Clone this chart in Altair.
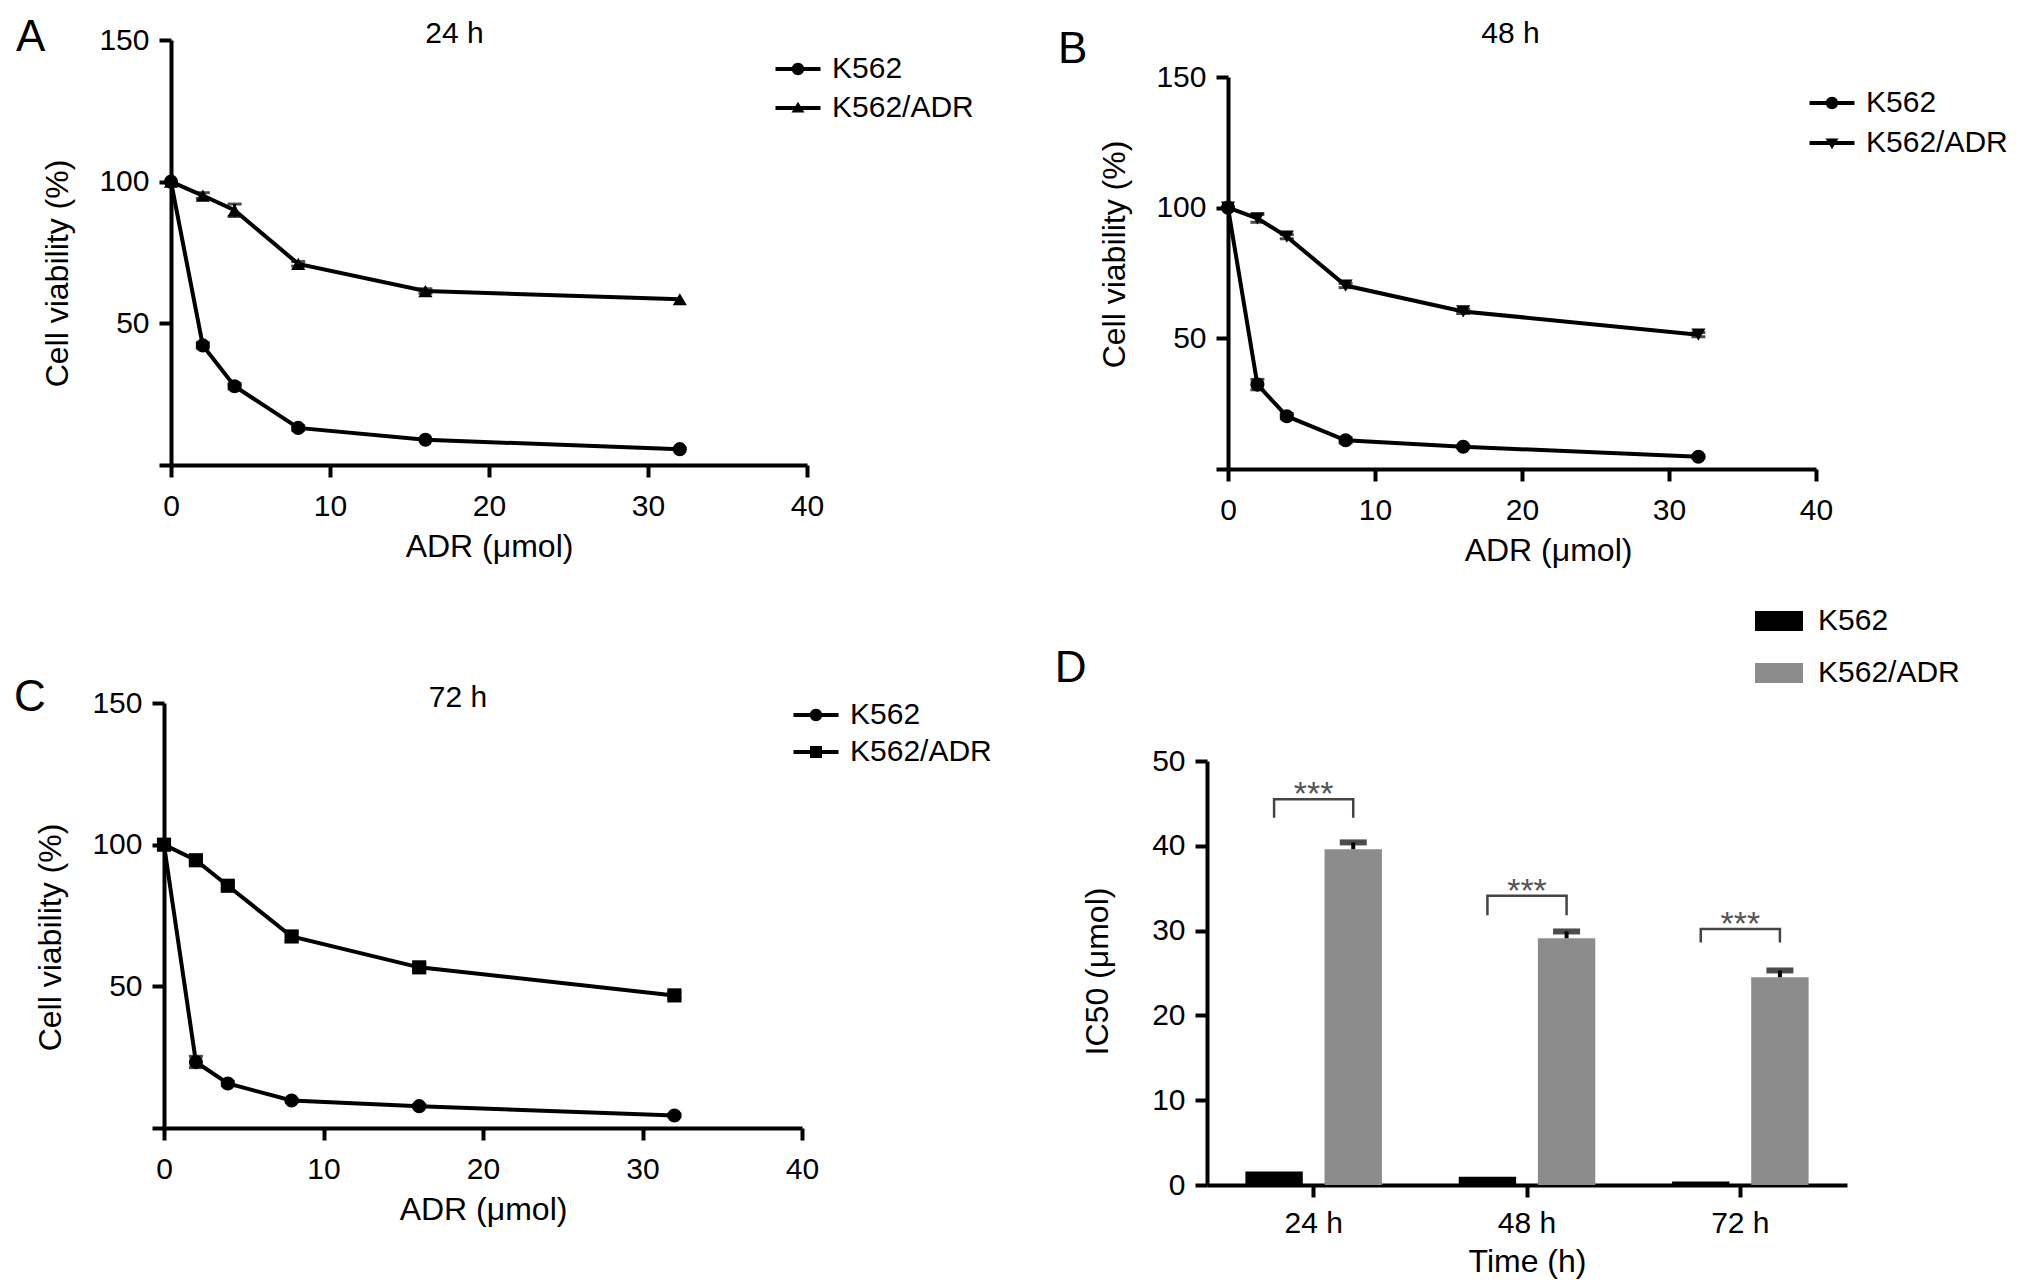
import altair as alt
import pandas as pd

FONT = "Liberation Sans"

# ADR doses (umol) and the two cell lines
doses = [0, 2, 4, 8, 16, 32]
series = ["K562", "K562/ADR"]

# cell viability (%)
via_24_k562 = [100, 42.2, 27.8, 13.1, 8.9, 5.6]
sd_24_k562 = [0, 1.0, 1.0, 0.8, 0, 0]
via_24_adr = [100, 95.1, 89.9, 71.0, 61.4, 58.5]
sd_24_adr = [0, 1.0, 2.2, 0.8, 0.8, 0]

via_48_k562 = [100, 32.3, 20.2, 11.0, 8.5, 4.7]
sd_48_k562 = [0, 2.0, 1.0, 1.0, 0.5, 0.5]
via_48_adr = [100, 95.9, 88.9, 70.2, 60.3, 51.4]
sd_48_adr = [0, 1.5, 0.8, 0.8, 0.8, 0.8]

via_72_k562 = [100, 23.3, 15.7, 9.7, 7.7, 4.4]
sd_72_k562 = [0, 2.0, 0.8, 0.5, 0.5, 0.5]
via_72_adr = [100, 94.5, 85.5, 67.6, 56.7, 46.8]
sd_72_adr = [0, 1.0, 1.0, 1.5, 1.0, 1.0]

# IC50 (umol)
times = ["24 h", "48 h", "72 h"]
ic50_k562 = [1.6, 0.96, 0.42]
ic50_k562_err = [0, 0, 0]
ic50_adr = [39.6, 29.1, 24.5]
ic50_adr_err = [0.8, 0.8, 0.8]
bracket_top = [45.5, 34.1, 30.2]
bracket_leg = [43.3, 31.8, 28.6]

# legend symbols: a short bar with the marker in the middle (all filled,
# all drawn clockwise so nothing cancels out)
LEG_LINE = "M-2.25,-0.2H2.25V0.2H-2.25Z"
LEG_CIRCLE = LEG_LINE + "M0.62,0A0.62,0.62,0,1,1,-0.62,0A0.62,0.62,0,1,1,0.62,0Z"
LEG_TRI_UP = LEG_LINE + "M0,-0.62L0.65,0.46L-0.65,0.46Z"
LEG_TRI_DOWN = LEG_LINE + "M0,0.62L-0.65,-0.46L0.65,-0.46Z"
LEG_SQUARE = LEG_LINE + "M-0.6,-0.6H0.6V0.6H-0.6Z"
LEG_BAR = "M-1.2,-0.5H1.2V0.5H-1.2Z"


def viability_panel(k562, k562_sd, adr, adr_sd, shape, leg_shape, width,
                    height, title, title_dx, title_offset, ytitle_y,
                    legend_x, legend_y, row_pad, left=0, top=0,
                    xtitle_x=None):
    df = pd.DataFrame({
        "dose": doses * 2,
        "viab": k562 + adr,
        "sd": k562_sd + adr_sd,
        "line": ["K562"] * len(doses) + ["K562/ADR"] * len(doses),
    })
    df["lo"] = df["viab"] - df["sd"]
    df["hi"] = df["viab"] + df["sd"]

    xaxis = dict(values=[0, 10, 20, 30, 40], titlePadding=10)
    if xtitle_x is not None:
        xaxis["titleX"] = xtitle_x
    x = alt.X("dose:Q", title="ADR (μmol)",
              scale=alt.Scale(domain=[0, 40], nice=False,
                              range=[left, width]),
              axis=alt.Axis(**xaxis))

    def y(field):
        return alt.Y(field, title="Cell viability (%)",
                     scale=alt.Scale(domain=[0, 150], nice=False,
                                     range=[height, top]),
                     axis=alt.Axis(values=[0, 50, 100, 150], titleY=ytitle_y,
                                   titlePadding=24, offset=-left,
                                   labelExpr="datum.value == 0 ? '' : datum.label"))

    base = alt.Chart(df)
    lines = base.mark_line(color="black", strokeWidth=4).encode(
        x=x, y=y("viab:Q"), detail="line:N")
    err = base.transform_filter("datum.sd > 0").mark_rule(
        color="black", strokeWidth=3).encode(x=x, y=y("lo:Q"), y2="hi:Q")
    err_hi = base.transform_filter("datum.sd > 0").mark_tick(
        color="black", thickness=3, size=14, orient="horizontal").encode(
        x=x, y=y("hi:Q"))
    err_lo = base.transform_filter("datum.sd > 0").mark_tick(
        color="black", thickness=3, size=14, orient="horizontal").encode(
        x=x, y=y("lo:Q"))
    points = base.mark_point(filled=True, color="black", size=200,
                             opacity=1).encode(
        x=x, y=y("viab:Q"),
        shape=alt.Shape("line:N", scale=alt.Scale(domain=series,
                                                  range=["circle", shape]),
                        legend=None))
    # legend only layer, draws no marks
    leg = base.transform_filter("false").mark_point(
        filled=True, color="black", opacity=1).encode(
        x=x, y=y("viab:Q"),
        shape=alt.Shape("line:N",
                        scale=alt.Scale(domain=series,
                                        range=[LEG_CIRCLE, leg_shape]),
                        legend=alt.Legend(title=None, orient="none",
                                          legendX=legend_x, legendY=legend_y,
                                          symbolSize=400, labelOffset=19,
                                          rowPadding=row_pad,
                                          symbolStrokeWidth=0,
                                          symbolFillColor="black")))

    return alt.layer(lines, err, err_hi, err_lo, points, leg).resolve_scale(
        shape="independent").properties(
        width=width, height=height,
        title=alt.TitleParams(title, anchor="middle", frame="group",
                              fontSize=30, font=FONT, fontWeight="normal",
                              baseline="alphabetic", color="black",
                              dx=title_dx, offset=title_offset))


def ic50_panel():
    df = pd.DataFrame({
        "time": times * 2,
        "group": ["K562"] * 3 + ["K562/ADR"] * 3,
        "ic50": ic50_k562 + ic50_adr,
        "err": ic50_k562_err + ic50_adr_err,
    })
    df["top"] = df["ic50"] + df["err"]

    rows = []
    for t, top, leg in zip(times, bracket_top, bracket_leg):
        rows += [(t, "K562", leg, 0), (t, "K562", top, 1),
                 (t, "K562/ADR", top, 2), (t, "K562/ADR", leg, 3)]
    brackets = pd.DataFrame(rows, columns=["time", "group", "val", "ord"])
    stars = pd.DataFrame({"time": times, "val": bracket_top})

    x = alt.X("time:N", title="Time (h)", sort=times,
              scale=alt.Scale(paddingInner=0.36, paddingOuter=0.18),
              axis=alt.Axis(labelAngle=0, labelPadding=11, titlePadding=8))
    xo = alt.XOffset("group:N", sort=series,
                     scale=alt.Scale(paddingInner=0.275, paddingOuter=0))

    def y(field):
        return alt.Y(field, title="IC50 (μmol)",
                     scale=alt.Scale(domain=[0, 50], nice=False),
                     axis=alt.Axis(values=[0, 10, 20, 30, 40, 50],
                                   titleY=210, titlePadding=37))

    bars = alt.Chart(df).mark_bar().encode(
        x=x, xOffset=xo, y=y("ic50:Q"),
        color=alt.Color("group:N", sort=series,
                        scale=alt.Scale(domain=series,
                                        range=["black", "#8c8c8c"]),
                        legend=alt.Legend(title=None, orient="none",
                                          legendX=552, legendY=-160,
                                          symbolType=LEG_BAR, symbolSize=1600,
                                          symbolStrokeWidth=0, labelOffset=19,
                                          rowPadding=17)))
    adr = alt.Chart(df).transform_filter("datum.err > 0")
    err = adr.mark_rule(color="black", strokeWidth=4).encode(
        x=x, xOffset=xo, y=y("ic50:Q"), y2="top:Q")
    cap = adr.mark_tick(color="black", thickness=6, size=27,
                        orient="horizontal").encode(x=x, xOffset=xo,
                                                    y=y("top:Q"))
    brk = alt.Chart(brackets).mark_line(color="#444", strokeWidth=2.5).encode(
        x=x, xOffset=xo, y=y("val:Q"), detail="time:N", order="ord:Q")
    txt = alt.Chart(stars).mark_text(text="***", font=FONT, fontSize=34,
                                     color="#555", baseline="alphabetic",
                                     dy=6).encode(x=x, y=y("val:Q"))

    return alt.layer(bars, err, cap, brk, txt).properties(width=640,
                                                          height=424)


def letter(panel, text, dx, offset):
    return alt.hconcat(panel).properties(
        title=alt.TitleParams(text, anchor="start", frame="bounds",
                              fontSize=44, font=FONT, fontWeight="normal",
                              baseline="alphabetic", color="black",
                              dx=dx, offset=offset)
    ).resolve_scale(color="independent", shape="independent")


panel_a = viability_panel(via_24_k562, sd_24_k562, via_24_adr, sd_24_adr,
                          "triangle-up", LEG_TRI_UP, 643, 425, "24 h",
                          -31, -48, 233, 619, 14, 9, left=7)
panel_b = viability_panel(via_48_k562, sd_48_k562, via_48_adr, sd_48_adr,
                          "triangle-down", LEG_TRI_DOWN, 609, 429, "48 h",
                          -1, -33, 214, 610, 48, 10, left=21, top=37,
                          xtitle_x=341)
panel_c = viability_panel(via_72_k562, sd_72_k562, via_72_adr, sd_72_adr,
                          "square", LEG_SQUARE, 638, 425, "72 h",
                          -25, -49, 234, 637, -3, 7)
panel_d = ic50_panel()

col1 = alt.vconcat(letter(panel_a, "A", -26, -76),
                   letter(panel_c, "C", -21, -72), spacing=114
                   ).resolve_scale(color="independent", shape="independent")
col2 = alt.vconcat(letter(panel_b, "B", -41, -88),
                   letter(panel_d, "D", -27, -125), spacing=35
                   ).resolve_scale(color="independent", shape="independent")

chart = alt.hconcat(col1, col2, spacing=62).resolve_scale(
    color="independent", shape="independent"
).properties(
    padding={"left": 5, "top": 8, "right": 5, "bottom": 5}
).configure_view(stroke=None).configure_axis(
    grid=False, domainColor="black", domainWidth=4, tickColor="black",
    tickWidth=4, tickSize=12, labelFont=FONT, labelFontSize=30,
    labelColor="black", titleFont=FONT, titleFontSize=32,
    titleFontWeight="normal", titleColor="black"
).configure_axisX(labelPadding=14, labelFlush=False
).configure_axisY(labelPadding=10).configure_legend(
    labelFont=FONT, labelFontSize=30, labelColor="black", padding=0
)

chart.save("out.html", embed_options={"renderer": "svg", "actions": False})
